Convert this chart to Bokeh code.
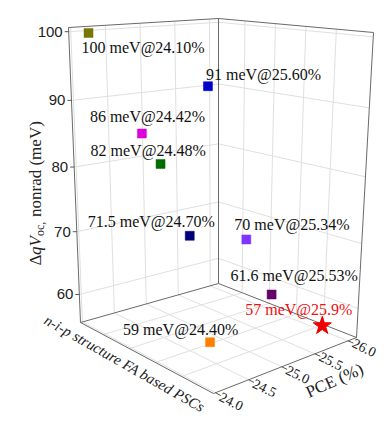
import numpy as np
from bokeh.plotting import figure
from bokeh.models import Range1d, ColumnDataSource
from bokeh.core.properties import value
from bokeh.embed import file_html
from bokeh.resources import INLINE

# ---------------- data ----------------
point_labels = ["100 meV@24.10%", "91 meV@25.60%", "86 meV@24.42%", "82 meV@24.48%",
                "71.5 meV@24.70%", "70 meV@25.34%", "61.6 meV@25.53%", "59 meV@24.40%",
                "57 meV@25.9%"]
pce = [24.10, 25.60, 24.42, 24.48, 24.70, 25.34, 25.53, 24.40, 25.90]
dvoc = [100, 91, 86, 82, 71.5, 70, 61.6, 59, 57]
structure_index = [1, 2, 3, 4, 5, 6, 7, 8, 9]
point_colors = ["#767600", "#0000cc", "#dd00dd", "#006c00", "#00007c",
                "#7f35ff", "#650068", "#ff8000", "#ee0000"]
label_colors = ["#111111"] * 8 + ["#ee1111"]

pce_ticks = [24.0, 24.5, 25.0, 25.5, 26.0]
pce_tick_labels = ["24.0", "24.5", "25.0", "25.5", "26.0"]
z_ticks = [60, 70, 80, 90, 100]
z_tick_labels = ["60", "70", "80", "90", "100"]
depth_ticks = [2, 4, 6, 8]

# ---------------- 3D box / projection (layout) ----------------
PCE_RANGE = (23.97, 26.13)
DEP_RANGE = (0.26, 10.44)
Z_RANGE = (55.44, 100.6)
Q = 1.07  # perspective foreshortening along the vertical
CORNERS = {
    (0, 0, 0): (80, 322), (1, 0, 0): (218, 283), (0, 1, 0): (213, 393), (1, 1, 0): (356, 337),
    (0, 0, 1): (68, 27), (1, 0, 1): (218, 18), (0, 1, 1): (217, 52), (1, 1, 1): (373, 32),
}


def norm(pv, dv, zv):
    u = (np.asarray(pv, float) - PCE_RANGE[0]) / (PCE_RANGE[1] - PCE_RANGE[0])
    w = (np.asarray(dv, float) - DEP_RANGE[0]) / (DEP_RANGE[1] - DEP_RANGE[0])
    h = (np.asarray(zv, float) - Z_RANGE[0]) / (Z_RANGE[1] - Z_RANGE[0])
    return np.broadcast_arrays(u, w, h)


def proj_n(u, w, h):
    u, w, h = np.broadcast_arrays(np.asarray(u, float), np.asarray(w, float), np.asarray(h, float))
    hs = h / (Q - (Q - 1) * h)
    x = np.zeros(u.shape)
    y = np.zeros(u.shape)
    for (a, b, c), (cx, cy) in CORNERS.items():
        wt = (u if a else 1 - u) * (w if b else 1 - w) * (hs if c else 1 - hs)
        x = x + wt * cx
        y = y + wt * cy
    return x, y


def proj(pv, dv, zv):
    return proj_n(*norm(pv, dv, zv))


P0, P1 = PCE_RANGE
D0, D1 = DEP_RANGE
Z0, Z1 = Z_RANGE

p = figure(width=391, height=421, x_range=Range1d(0, 391), y_range=Range1d(421, 0),
           output_backend="svg", toolbar_location=None, min_border=0,
           x_axis_location=None, y_axis_location=None)
p.grid.visible = False
p.outline_line_color = None
p.background_fill_color = "white"


def seg_list(pairs):
    xs, ys = [], []
    for a, b in pairs:
        xa, ya = proj(*a)
        xb, yb = proj(*b)
        xs.append([float(xa), float(xb)])
        ys.append([float(ya), float(yb)])
    return xs, ys


# grid lines
grid = []
for t in pce_ticks:
    grid.append(((t, D0, Z0), (t, D0, Z1)))     # back-left wall
    grid.append(((t, D0, Z0), (t, D1, Z0)))     # floor
for z in z_ticks:
    grid.append(((P0, D0, z), (P1, D0, z)))     # back-left wall
    grid.append(((P1, D0, z), (P1, D1, z)))     # back-right wall
for d in depth_ticks:
    grid.append(((P1, d, Z0), (P1, d, Z1)))     # back-right wall
    grid.append(((P0, d, Z0), (P1, d, Z0)))     # floor
gx, gy = seg_list(grid)
p.multi_line(gx, gy, line_color="#e0e0e0", line_width=1)

# box edges
edges = [
    ((P0, D0, Z0), (P0, D0, Z1)), ((P1, D0, Z0), (P1, D0, Z1)), ((P1, D1, Z0), (P1, D1, Z1)),
    ((P0, D0, Z1), (P1, D0, Z1)), ((P1, D0, Z1), (P1, D1, Z1)),
    ((P0, D0, Z0), (P1, D0, Z0)), ((P1, D0, Z0), (P1, D1, Z0)),
    ((P0, D0, Z0), (P0, D1, Z0)), ((P0, D1, Z0), (P1, D1, Z0)),
]
ex, ey = seg_list(edges)
p.multi_line(ex, ey, line_color="#6a6a6a", line_width=1)

# z ticks and labels (left edge)
zx, zy = proj(P0, D0, z_ticks)
p.segment(x0=zx, y0=zy, x1=zx - 4, y1=zy, line_color="#555555", line_width=1)
p.text(x=zx - 6, y=zy, text=z_tick_labels, text_align="right", text_baseline="middle",
       text_font=value("Liberation Sans"), text_font_size="15px", text_color="#222222")

# PCE ticks and labels (front-right edge)
tx0, ty0 = proj(pce_ticks, D1, Z0)
tx1, ty1 = proj(pce_ticks, D1 + 0.04 * (D1 - D0), Z0)
p.segment(x0=tx0, y0=ty0, x1=tx1, y1=ty1, line_color="#555555", line_width=1)
lx, ly = proj(pce_ticks, D1 + 0.12 * (D1 - D0), Z0)
p.text(x=lx, y=ly, text=pce_tick_labels, text_align="center", text_baseline="middle",
       angle=np.deg2rad(-26), text_font=value("Liberation Serif"), text_font_size="14px",
       text_color="#222222")

# axis titles
p.text(x=[334], y=[380], text=["PCE (%)"], angle=np.deg2rad(24), text_align="center",
       text_baseline="middle", text_font=value("Liberation Serif"), text_font_size="17px",
       text_color="#222222")
p.text(x=[124], y=[363], text=["n-i-p structure FA based PSCs"], angle=np.deg2rad(-29.5),
       text_align="center", text_baseline="middle", text_font=value("Liberation Serif"),
       text_font_style="italic", text_font_size="15px", text_color="#222222")

# z title: ΔqV_oc, nonrad (meV), rotated
zt_font = value("Liberation Serif")
p.text(x=[35], y=[265], text=["Δ"], angle=np.pi / 2, text_align="left", text_baseline="alphabetic",
       text_font=zt_font, text_font_size="17px", text_color="#222222")
p.text(x=[35], y=[254.5], text=["qV"], angle=np.pi / 2, text_align="left", text_baseline="alphabetic",
       text_font=zt_font, text_font_style="italic", text_font_size="17px", text_color="#222222")
p.text(x=[39], y=[235.5], text=["oc,"], angle=np.pi / 2, text_align="left", text_baseline="alphabetic",
       text_font=zt_font, text_font_size="12px", text_color="#222222")
p.text(x=[35], y=[216.5], text=["nonrad (meV)"], angle=np.pi / 2, text_align="left",
       text_baseline="alphabetic", text_font=zt_font, text_font_size="17px", text_color="#222222")

# data points
px, py = proj(pce, structure_index, dvoc)
cube = [i for i in range(len(pce)) if i != len(pce) - 1]
src_cube = ColumnDataSource(dict(x=px[cube], y=py[cube], c=[point_colors[i] for i in cube]))
p.scatter(x="x", y="y", source=src_cube, marker="square", size=9, fill_color="c",
          line_color="c", line_width=0.5)
p.scatter(x=[px[-1]], y=[py[-1]], marker="star", size=19, fill_color=point_colors[-1],
          line_color=point_colors[-1])

# point labels (pixel offsets from each marker)
label_dx = [-7, -2, -52, -70, -102, -12, -41, -87, -77]
label_dy = [15, -12, -17, -13, -14, -15, -19, -13, -16]
src_lab = ColumnDataSource(dict(x=px + np.array(label_dx), y=py + np.array(label_dy),
                                t=point_labels, c=label_colors))
p.text(x="x", y="y", text="t", source=src_lab, text_align="left", text_baseline="middle",
       text_font=value("Liberation Serif"), text_font_size="16px", text_color="c")

open("out.html", "w").write(file_html(p, INLINE))
